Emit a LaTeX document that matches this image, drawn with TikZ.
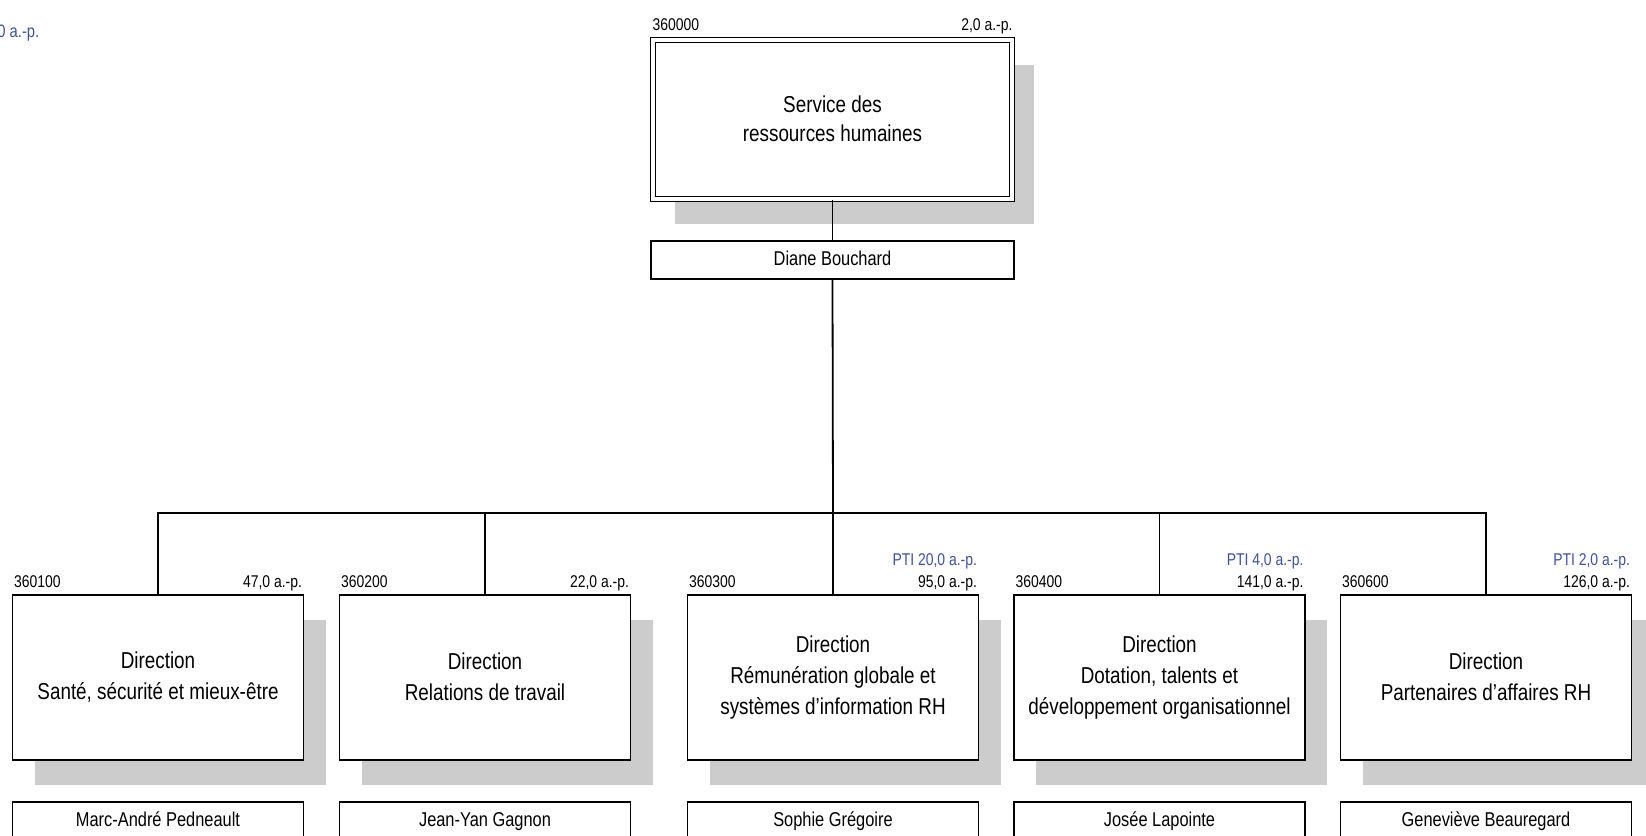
\documentclass[tikz,border=0pt]{standalone}
\usepackage{fontspec}
\setmainfont{Liberation Sans}[FakeStretch=0.82]
\usetikzlibrary{shadows}
\definecolor{ptiblue}{RGB}{60,80,160}
\definecolor{ombre}{RGB}{204,204,204}
\newcommand{\cale}{\rule[-1pt]{0pt}{13.5pt}}

\begin{document}
\begin{tikzpicture}%
	[x=0.5pt, y=-0.5pt,
	lien/.style={color=black, line width=0.9pt},
	unite/.style={draw=black, line width=0.9pt, fill=white, align=center,
		minimum width=145.5pt, minimum height=82.5pt, inner sep=2pt,
		font=\fontsize{11.5}{15.5}\selectfont,
		execute at begin node=\cale, execute at end node=\cale,
		drop shadow={shadow xshift=11pt, shadow yshift=-12.5pt, fill=ombre, opacity=1}},
	service/.style={unite, double, double distance=1.6pt,
		minimum width=179.5pt, minimum height=79.5pt, font=\fontsize{11.5}{14.5}\selectfont},
	nom/.style={draw=black, line width=0.9pt, fill=white,
		minimum width=145.5pt, minimum height=19pt, inner sep=1pt,
		text height=7.5pt, text depth=2.2pt,
		font=\fontsize{10}{12}\selectfont},
	code/.style={inner sep=0pt, font=\fontsize{8.5}{10}\selectfont},
	pti/.style={code, text=ptiblue}]
	\useasboundingbox (0,0) rectangle (1646,836);

	\node[pti, anchor=base west, font=\fontsize{9}{10}\selectfont] (legende) at (-3,37) {0 a.-p.};

	% service
	\node[service] (rh) at (832.5,119.5) {Service des\\ressources humaines};
	\node[code, anchor=base west] at ([yshift=4.5pt]rh.north west) {360000};
	\node[code, anchor=base east] at ([yshift=4.5pt]rh.north east) {2,0 a.-p.};
	\node[nom] (chef) at (832.5,260) [minimum width=181.5pt] {Diane Bouchard};
	\draw[lien] (rh.south) -- (chef.north);

	% directions
	\node[unite] (d100) at (158,677.5) {Direction\\Santé, sécurité et mieux-être};
	\node[unite] (d200) at (485,677.5) {Direction\\Relations de travail};
	\node[unite] (d300) at (833,677.5) {Direction\\Rémunération globale et\\systèmes d’information RH};
	\node[unite] (d400) at (1159.5,677.5) {Direction\\Dotation, talents et\\développement organisationnel};
	\node[unite] (d600) at (1486,677.5) {Direction\\Partenaires d’affaires RH};

	\node[nom] (n100) at (158,821) {Marc-André Pedneault};
	\node[nom] (n200) at (485,821) {Jean-Yan Gagnon};
	\node[nom] (n300) at (833,821) {Sophie Grégoire};
	\node[nom] (n400) at (1159.5,821) {Josée Lapointe};
	\node[nom] (n600) at (1486,821) {Geneviève Beauregard};

	%codes
	\node[code, anchor=base west] at ([xshift=1pt, yshift=3.5pt]d100.north west) {360100};
	\node[code, anchor=base west] at ([xshift=1pt, yshift=3.5pt]d200.north west) {360200};
	\node[code, anchor=base west] at ([xshift=1pt, yshift=3.5pt]d300.north west) {360300};
	\node[code, anchor=base west] at ([xshift=1pt, yshift=3.5pt]d400.north west) {360400};
	\node[code, anchor=base west] at ([xshift=1pt, yshift=3.5pt]d600.north west) {360600};

	\node[code, anchor=base east] at ([xshift=-1pt, yshift=3.5pt]d100.north east) {47,0 a.-p.};
	\node[code, anchor=base east] at ([xshift=-1pt, yshift=3.5pt]d200.north east) {22,0 a.-p.};
	\node[code, anchor=base east] at ([xshift=-1pt, yshift=3.5pt]d300.north east) {95,0 a.-p.};
	\node[code, anchor=base east] at ([xshift=-1pt, yshift=3.5pt]d400.north east) {141,0 a.-p.};
	\node[code, anchor=base east] at ([xshift=-1pt, yshift=3.5pt]d600.north east) {126,0 a.-p.};
	\node[pti, anchor=base east] at ([xshift=-1pt, yshift=14.5pt]d300.north east) {PTI 20,0 a.-p.};
	\node[pti, anchor=base east] at ([xshift=-1pt, yshift=14.5pt]d400.north east) {PTI 4,0 a.-p.};
	\node[pti, anchor=base east] at ([xshift=-1pt, yshift=14.5pt]d600.north east) {PTI 2,0 a.-p.};

	%liens
	\coordinate (bus) at (833,513);
	\draw[lien] (chef.south) -- (bus);
	\foreach \d in {d100,d200,d300,d400,d600}
		\draw[lien] (bus) -| (\d.north);
\end{tikzpicture}
\end{document}
